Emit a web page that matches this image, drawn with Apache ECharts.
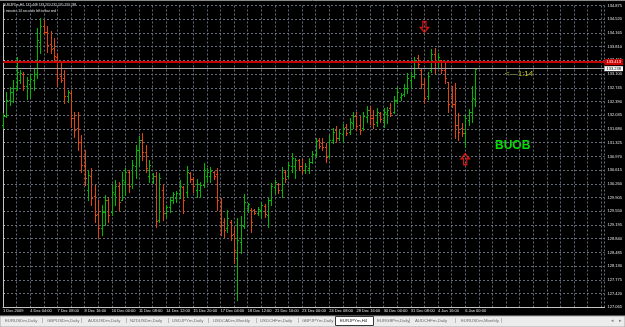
<!DOCTYPE html>
<html>
<head>
<meta charset="utf-8">
<style>
  html, body { margin: 0; padding: 0; background: #000; }
  #chart { width: 625px; height: 327px; }
</style>
<script src="https://cdn.jsdelivr.net/npm/echarts@6/dist/echarts.min.js"></script>
</head>
<body>
<div id="chart"></div>
<script>
// EURJPYm H4 bars, index 0 = first bar on screen
const opens = [
  131.78, 132.02, 132.43, 132.64, 132.74, 132.95, 133.10, 132.79, 132.84, 132.95,
  133.10, 133.93, 134.34, 134.19, 133.88, 133.78, 133.54, 133.05, 133.00, 132.53,
  132.61, 131.96, 131.71, 131.34, 130.75, 130.10, 130.46, 129.95, 129.48, 129.12,
  129.53, 129.84, 129.53, 130.00, 130.20, 129.84, 130.31, 130.57, 130.26, 130.72,
  131.14, 131.40, 131.08, 130.46, 130.33, 130.46, 129.32, 130.10, 129.51, 129.66,
  129.84, 129.89, 130.02, 130.18, 130.05, 130.54, 130.39, 130.10, 130.10, 130.23,
  130.46, 130.46, 130.57, 130.51, 129.79, 129.27, 129.12, 129.27, 128.96, 128.34,
  128.76, 129.17, 129.64, 129.58, 129.58, 129.51, 129.58, 129.69, 129.45, 129.84,
  130.18, 130.26, 130.10, 130.57, 130.46, 130.72, 130.72, 130.88, 130.72, 130.62,
  130.67, 130.83, 131.01, 131.40, 131.32, 131.21, 130.98, 131.40, 131.65, 131.45,
  131.55, 131.73, 131.60, 131.83, 132.02, 131.78, 131.71, 131.99, 132.17, 131.96,
  131.86, 132.09, 131.91, 132.07, 132.22, 132.12, 132.43, 132.51, 132.59, 132.74,
  132.95, 133.05, 133.52, 133.21, 132.84, 132.53, 133.21, 133.62, 133.41, 133.46,
  133.21, 132.90, 132.53, 132.33, 131.78, 131.71, 131.58, 131.91, 132.12, 132.45
];
const highs = [
  132.09, 132.64, 132.77, 132.95, 133.54, 133.21, 133.15, 133.02, 133.10, 133.23,
  134.29, 134.55, 134.50, 134.34, 134.21, 134.03, 133.65, 133.41, 133.21, 132.69,
  132.69, 132.12, 132.12, 131.52, 131.14, 130.62, 130.67, 130.23, 129.84, 129.71,
  129.97, 129.89, 130.23, 130.36, 130.31, 130.57, 130.67, 130.62, 130.88, 131.27,
  131.50, 131.58, 131.27, 130.88, 130.54, 130.57, 130.54, 130.23, 129.71, 129.92,
  130.05, 130.08, 130.36, 130.20, 130.72, 130.57, 130.44, 130.39, 130.31, 130.80,
  130.67, 130.70, 130.59, 130.67, 129.89, 129.38, 129.58, 129.32, 129.14, 129.38,
  129.43, 130.00, 129.76, 129.64, 129.61, 129.66, 129.79, 129.74, 129.89, 130.28,
  130.36, 130.28, 130.70, 130.62, 130.83, 131.06, 130.93, 130.90, 130.90, 130.80,
  130.93, 131.11, 131.45, 131.45, 131.45, 131.32, 131.52, 131.71, 131.76, 131.65,
  131.81, 131.81, 131.96, 132.12, 132.12, 132.02, 132.12, 132.27, 132.27, 132.17,
  132.22, 132.12, 132.22, 132.25, 132.35, 132.53, 132.77, 132.61, 132.84, 133.13,
  133.15, 133.54, 133.59, 133.26, 133.00, 133.15, 133.75, 133.78, 133.65, 133.46,
  133.44, 132.90, 132.79, 132.87, 132.09, 131.83, 132.04, 132.20, 132.79, 133.27
];
const lows = [
  131.71, 131.99, 132.30, 132.38, 132.69, 132.87, 132.69, 132.46, 132.51, 132.69,
  133.00, 133.65, 134.14, 133.67, 133.65, 133.41, 132.79, 132.90, 132.35, 132.38,
  131.73, 131.47, 131.14, 130.57, 130.23, 129.84, 129.71, 129.27, 128.86, 128.94,
  129.20, 129.27, 129.45, 129.71, 129.58, 129.84, 129.97, 130.05, 130.15, 130.41,
  130.75, 130.88, 130.57, 130.31, 130.28, 129.14, 129.27, 129.32, 129.40, 129.53,
  129.76, 129.79, 129.89, 129.51, 129.92, 130.31, 130.05, 129.92, 129.92, 130.18,
  130.31, 130.31, 130.39, 129.58, 128.94, 128.89, 129.01, 128.81, 128.21, 127.25,
  128.47, 129.12, 129.53, 129.01, 129.48, 129.45, 129.40, 129.40, 129.14, 129.71,
  130.02, 130.02, 129.92, 130.31, 130.44, 130.57, 130.41, 130.62, 130.54, 130.54,
  130.54, 130.80, 130.96, 131.19, 131.14, 130.83, 130.96, 131.32, 131.34, 131.40,
  131.34, 131.52, 131.55, 131.71, 131.65, 131.55, 131.65, 131.86, 131.81, 131.71,
  131.76, 131.86, 131.73, 131.83, 132.02, 132.09, 132.35, 132.43, 132.53, 132.61,
  132.74, 133.00, 133.28, 132.74, 132.35, 132.46, 133.15, 133.13, 133.26, 133.13,
  132.87, 132.12, 132.25, 131.45, 131.40, 131.50, 131.21, 131.78, 131.86, 132.27
];
const closes = [
  132.02, 132.43, 132.64, 132.74, 133.15, 133.13, 132.79, 132.95, 132.97, 133.10,
  133.98, 134.34, 134.19, 133.85, 133.75, 133.57, 133.00, 132.95, 132.53, 132.64,
  131.96, 131.65, 131.34, 130.75, 130.41, 130.49, 129.89, 129.45, 129.12, 129.53,
  129.84, 129.45, 130.05, 130.20, 129.79, 130.36, 130.57, 130.20, 130.75, 131.14,
  131.40, 131.08, 130.67, 130.75, 130.46, 129.30, 130.41, 129.51, 129.66, 129.84,
  130.00, 130.02, 130.20, 129.84, 130.57, 130.39, 130.20, 130.26, 130.23, 130.62,
  130.57, 130.59, 130.46, 129.84, 129.20, 129.07, 129.38, 128.94, 128.55, 128.81,
  129.20, 129.79, 129.74, 129.27, 129.51, 129.61, 129.71, 129.48, 129.84, 130.20,
  130.31, 130.10, 130.41, 130.39, 130.75, 130.93, 130.88, 130.72, 130.62, 130.72,
  130.83, 131.03, 131.37, 131.24, 131.21, 130.96, 131.40, 131.60, 131.45, 131.58,
  131.71, 131.58, 131.86, 132.02, 131.76, 131.65, 132.02, 132.17, 131.96, 131.81,
  132.12, 131.94, 132.12, 132.17, 132.09, 132.43, 132.64, 132.56, 132.74, 133.00,
  133.05, 133.46, 133.36, 132.84, 132.48, 133.05, 133.62, 133.41, 133.54, 133.21,
  133.00, 132.33, 132.33, 131.78, 131.60, 131.58, 131.96, 132.12, 132.48, 133.24
];
// one time label every 8 bars
const dateLabels = [
  "1 Dec 2009", "4 Dec 04:00", "7 Dec 08:00", "8 Dec 16:00", "10 Dec 00:00",
  "11 Dec 08:00", "14 Dec 12:00", "15 Dec 20:00", "17 Dec 04:00", "18 Dec 12:00",
  "21 Dec 16:00", "23 Dec 00:00", "24 Dec 08:00", "28 Dec 16:00", "30 Dec 00:00",
  "31 Dec 08:00", "4 Jan 16:00", "6 Jan 00:00"
];
const redLinePrice = 133.413;
const bidPrice = 133.238;
const arrowDown = [[124, 134.32]];
const arrowUp = [[136, 130.90]];
const titleLine = "EURJPYm,H4  132.448 133.270 132.270 133.238";
const timerLine = "1 minutes 14 seconds left to bar end";
const tabNames = [
  "EURUSDm,Daily", "GBPUSDm,Daily", "AUDUSDm,Daily", "NZDUSDm,Daily", "USDJPYm,Daily",
  "USDCADm,Weekly", "USDCHFm,Daily", "GBPJPYm,Daily", "EURJPYm,H4", "EURGBPm,Daily",
  "AUDCHFm,Daily", "EURUSDm,Monthly"
];
const activeTab = 8;

// layout of the terminal tab strip
const tabLeft = [5, 47, 88, 130, 172, 213, 260, 302, 340, 377, 415, 461];
const sepLeft = [42, 81, 126, 168, 208, 256, 298, 409, 455, 501];

const font = '"Liberation Sans", Arial, sans-serif';
const upColor = "#00b800";
const downColor = "#e2440e";
const arrowColor = "#ff1c1c";
const gridLine = { show: true, lineStyle: { color: "#626c78", type: [2, 2], width: 1 } };

const chart = echarts.init(document.getElementById("chart"));
const bars = opens.map((o, i) => [i, o, highs[i], lows[i], closes[i]]);

function renderBar(params, api) {
  const i = api.value(0);
  const o = api.value(1);
  const c = api.value(4);
  const hi = api.coord([i, api.value(2)]);
  const lo = api.coord([i, api.value(3)]);
  const yo = Math.round(api.coord([i, o])[1]) + 0.5;
  const yc = Math.round(api.coord([i, c])[1]) + 0.5;
  const p = Math.round(hi[0]);
  const style = { stroke: c >= o ? upColor : downColor, lineWidth: 1 };
  return {
    type: "group",
    children: [
      { type: "line", shape: { x1: p + 0.5, y1: Math.round(hi[1]), x2: p + 0.5, y2: Math.round(lo[1]) + 1 }, style },
      { type: "line", shape: { x1: p - 1, y1: yo, x2: p, y2: yo }, style },
      { type: "line", shape: { x1: p + 1, y1: yc, x2: p + 2, y2: yc }, style }
    ]
  };
}

const graphic = [
  { type: "line", shape: { x1: 0, y1: 0.5, x2: 625, y2: 0.5 }, style: { stroke: "#8a8a8a", lineWidth: 1 }, silent: true },
  { type: "text", x: 3, y: 5, style: { text: titleLine, fill: "#e0e0e0", font: "3.3px " + font, textVerticalAlign: "middle" } },
  { type: "text", x: 3, y: 11, style: { text: timerLine, fill: "#e0e0e0", font: "3.3px " + font, textVerticalAlign: "middle" } },
  { type: "text", x: 505, y: 74, style: { text: "<\u20141:14", fill: "#d4d400", font: "8px " + font, textVerticalAlign: "middle" } },
  { type: "text", x: 495, y: 145.5, style: { text: "BUOB", fill: "#00e000", font: "bold 12px " + font, textVerticalAlign: "middle" } },
  { type: "rect", shape: { x: 0, y: 316, width: 625, height: 11 }, style: { fill: "#ececec", stroke: "#a8a8a8", lineWidth: 1 } },
  { type: "rect", shape: { x: 335.5, y: 316.5, width: 38, height: 9 }, style: { fill: "#ffffff", stroke: "#3a3a3a", lineWidth: 1 } }
];
tabNames.forEach((name, k) => {
  graphic.push({
    type: "text", x: tabLeft[k], y: 320.5,
    style: { text: name, fill: k === activeTab ? "#1a1a1a" : "#6a6a6a", font: "4.3px " + font, textVerticalAlign: "middle" }
  });
});
sepLeft.forEach((x) => {
  graphic.push({ type: "text", x, y: 320.5, style: { text: "|", fill: "#7a7a7a", font: "5px " + font, textVerticalAlign: "middle" } });
});
graphic.push({ type: "text", x: 611, y: 320.5, style: { text: "\u25C2", fill: "#808080", font: "5px " + font, textVerticalAlign: "middle" } });
graphic.push({ type: "text", x: 619, y: 320.5, style: { text: "\u25B8", fill: "#808080", font: "5px " + font, textVerticalAlign: "middle" } });

const axisText = { color: "#e4e4e4", fontSize: 4, fontFamily: font };

chart.setOption({
  animation: false,
  backgroundColor: "#000000",
  grid: { left: 2.3, right: 17, top: 5.5, bottom: 19.7 },
  xAxis: {
    type: "value",
    min: 0,
    max: 177,
    interval: 4,
    axisLine: { show: true, onZero: false, lineStyle: { color: "#c4c4c4" } },
    axisTick: { show: false },
    axisLabel: {
      ...axisText,
      align: "left",
      margin: 2,
      showMinLabel: true,
      showMaxLabel: false,
      formatter: (v) => (v % 8 === 0 ? dateLabels[v / 8] || "" : "")
    },
    splitLine: gridLine
  },
  yAxis: {
    type: "value",
    position: "right",
    min: 127.065,
    max: 134.875,
    interval: 0.355,
    axisLine: { show: true, lineStyle: { color: "#c4c4c4" } },
    axisTick: { show: true, length: 2, lineStyle: { color: "#c4c4c4" } },
    axisLabel: { ...axisText, margin: 3, formatter: (v) => v.toFixed(3) },
    splitLine: gridLine
  },
  graphic,
  series: [
    {
      type: "custom",
      name: "EURJPYm,H4",
      renderItem: renderBar,
      encode: { x: 0, y: [1, 2, 3, 4] },
      data: bars
    },
    {
      type: "scatter",
      name: "sell arrow",
      data: arrowDown,
      symbol: "path://M3,0L7,0L7,6L10,6L5,11L0,6L3,6Z",
      symbolSize: [8, 11],
      itemStyle: { color: "rgba(0,0,0,0)", borderColor: arrowColor, borderWidth: 1.4 },
      markLine: {
        silent: true,
        symbol: "none",
        data: [
          {
            yAxis: redLinePrice,
            lineStyle: { color: "#c80000", width: 2, type: "solid" },
            label: {
              show: true, position: "end", distance: 0, formatter: redLinePrice.toFixed(3),
              color: "#ffffff", backgroundColor: "#d00000", padding: [1, 2], fontSize: 4, fontFamily: font
            }
          },
          {
            yAxis: bidPrice,
            lineStyle: { color: "#a4a4a4", width: 1, type: "solid" },
            label: {
              show: true, position: "end", distance: 0, formatter: bidPrice.toFixed(3),
              color: "#000000", backgroundColor: "#ffffff", padding: [0.5, 2], fontSize: 4, fontFamily: font
            }
          }
        ]
      }
    },
    {
      type: "scatter",
      name: "buy arrow",
      data: arrowUp,
      symbol: "path://M5,0L10,5L7,5L7,11L3,11L3,5L0,5Z",
      symbolSize: [8, 11],
      itemStyle: { color: "rgba(0,0,0,0)", borderColor: arrowColor, borderWidth: 1.4 }
    }
  ]
});
</script>
</body>
</html>
